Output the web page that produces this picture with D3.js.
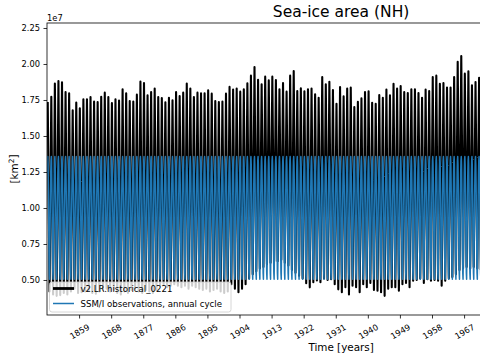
<!DOCTYPE html>
<html><head><meta charset="utf-8">
<script src="https://cdn.jsdelivr.net/npm/d3@7"></script>
<style>body{margin:0;background:#fff} svg{display:block;font-family:"DejaVu Sans",sans-serif}</style>
</head><body><svg id="c" width="480" height="360"></svg>
<script>
// ---- data (units of 1e7 km^2) ----
const firstYear = 1850;
const lastAxisYear = 2015;
// annual maximum (March) of model run, 1850..1971
const blackMax = [
 1.736,1.773,1.864,1.882,1.873,1.806,1.797,1.679,1.732,1.692,
 1.755,1.755,1.771,1.739,1.736,1.773,1.801,1.771,1.729,1.755,
 1.746,1.824,1.797,1.743,1.739,1.787,1.878,1.868,1.783,1.806,
 1.829,1.771,1.764,1.734,1.766,1.748,1.806,1.778,1.801,1.864,
 1.829,1.771,1.801,1.797,1.797,1.817,1.794,1.743,1.736,1.739,
 1.794,1.841,1.822,1.829,1.808,1.824,1.866,1.919,1.979,1.891,
 1.859,1.912,1.886,1.912,1.889,1.824,1.868,1.808,1.919,1.951,
 1.812,1.831,1.810,1.824,1.829,1.789,1.766,1.910,1.859,1.877,
 1.819,1.724,1.840,1.775,1.829,1.836,1.701,1.738,1.761,1.805,
 1.810,1.731,1.724,1.785,1.766,1.822,1.782,1.863,1.829,1.847,
 1.805,1.798,1.824,1.824,1.798,1.766,1.822,1.812,1.910,1.919,
 1.863,1.868,1.836,1.836,1.910,2.016,2.055,1.933,1.949,1.852,
 1.875,1.905
];
// annual minimum (September) of model run, 1850..1971
const blackMin = [
 0.420,0.400,0.390,0.395,0.410,0.400,0.420,0.440,0.410,0.415,
 0.420,0.430,0.410,0.405,0.420,0.430,0.440,0.420,0.430,0.410,
 0.400,0.420,0.410,0.430,0.440,0.420,0.410,0.430,0.420,0.410,
 0.430,0.460,0.470,0.450,0.460,0.470,0.460,0.450,0.460,0.440,
 0.460,0.450,0.440,0.430,0.440,0.420,0.430,0.440,0.420,0.410,
 0.420,0.470,0.440,0.415,0.440,0.470,0.510,0.540,0.560,0.580,
 0.590,0.610,0.620,0.630,0.630,0.640,0.620,0.600,0.570,0.550,
 0.530,0.510,0.477,0.449,0.484,0.496,0.484,0.510,0.500,0.505,
 0.470,0.435,0.415,0.450,0.400,0.460,0.450,0.415,0.470,0.450,
 0.480,0.430,0.425,0.415,0.390,0.440,0.450,0.450,0.425,0.470,
 0.480,0.450,0.495,0.500,0.510,0.480,0.505,0.495,0.500,0.495,
 0.460,0.495,0.510,0.520,0.540,0.570,0.580,0.590,0.580,0.590,
 0.580,0.570
];
// SSM/I observed annual cycle, Jan..Dec
const obsCycle = [1.240,1.330,1.358,1.300,1.160,0.960,0.710,0.550,0.505,0.670,0.900,1.090];
// tick years that fall inside the visible part of the axis
const xTickYears = [1859,1868,1877,1886,1895,1904,1913,1922,1931,1940,1949,1958,1967];
const yTickValues = [0.50,0.75,1.00,1.25,1.50,1.75,2.00,2.25];
const seriesNames = ["v2.LR.historical_0221","SSM/I observations, annual cycle"];
const seriesColors = ["#000000","#1f77b4"];

// ---- layout ----
const L = 47, T = 23, R = 635.2, B = 315;
const svg = d3.select("#c");
const x = d3.scaleLinear().domain([firstYear, lastAxisYear]).range([L, R]);
const y = d3.scaleLinear().domain([0.2569, 2.2847]).range([B, T]);

svg.append("defs").append("clipPath").attr("id","clip")
  .append("rect").attr("x",L).attr("y",T).attr("width",R-L).attr("height",B-T);

const blackPts = [];
blackMax.forEach((v,i)=>{
  blackPts.push({t:firstYear+i+2.5/12, v:v});
  blackPts.push({t:firstYear+i+8.5/12, v:blackMin[i]});
});
const bluePts = [];
for (let yr=firstYear; yr<lastAxisYear; yr++) {
  obsCycle.forEach((v,m)=>bluePts.push({t:yr+(m+0.5)/12, v:v}));
}
const line = d3.line().x(d=>x(d.t)).y(d=>y(d.v));
const plot = svg.append("g").attr("clip-path","url(#clip)");
plot.append("path").datum(blackPts).attr("d",line)
  .attr("fill","none").attr("stroke",seriesColors[0]).attr("stroke-width",2.1).attr("stroke-linejoin","round");
plot.append("path").datum(bluePts).attr("d",line)
  .attr("fill","none").attr("stroke",seriesColors[1]).attr("stroke-width",1.5).attr("stroke-linejoin","round");

// spines
svg.append("rect").attr("x",L).attr("y",T).attr("width",R-L).attr("height",B-T)
  .attr("fill","none").attr("stroke","#000").attr("stroke-width",0.8);

// y axis
const ya = svg.append("g").attr("transform",`translate(${L},0)`)
  .call(d3.axisLeft(y).tickValues(yTickValues).tickFormat(d3.format(".2f")).tickSize(3.5).tickPadding(3.5));
ya.select(".domain").remove();
ya.selectAll("line").attr("stroke","#000").attr("stroke-width",0.8);
ya.selectAll("text").attr("font-size","8.3px").attr("fill","#000").attr("font-family","DejaVu Sans");

// x axis
const xa = svg.append("g").attr("transform",`translate(0,${B})`)
  .call(d3.axisBottom(x).tickValues(xTickYears).tickFormat(d3.format("d")).tickSize(3.5));
xa.select(".domain").remove();
xa.selectAll("line").attr("stroke","#000").attr("stroke-width",0.8);
xa.selectAll("text").attr("font-size","8.3px").attr("fill","#000").attr("font-family","DejaVu Sans")
  .attr("y",null).attr("dy",null).attr("text-anchor","middle").attr("dominant-baseline","central")
  .attr("transform","translate(0,16.5) rotate(-30)");

// offset text, labels, title
svg.append("text").attr("x",L).attr("y",20.5).attr("font-size","8.3px").text("1e7");
svg.append("text").attr("x",(L+R)/2).attr("y",17).attr("text-anchor","middle").attr("font-size","15.5px").text("Sea-ice area (NH)");
svg.append("text").attr("x",(L+R)/2).attr("y",350.5).attr("text-anchor","middle").attr("font-size","10.4px").text("Time [years]");
const yl = svg.append("text").attr("transform",`translate(17.5,${(T+B)/2}) rotate(-90)`)
  .attr("text-anchor","middle").attr("font-size","10.4px");
yl.append("tspan").text("[km");
yl.append("tspan").attr("font-size","7.3px").attr("dy","-0.45em").text("2");
yl.append("tspan").attr("dy","0.3em").text("]");

// legend
const lg = svg.append("g").attr("transform","translate(49.5,282)");
lg.append("rect").attr("width",181.5).attr("height",30).attr("rx",2.5)
  .attr("fill","#fff").attr("fill-opacity",0.8).attr("stroke","#cccccc").attr("stroke-width",0.8);
seriesNames.forEach((n,i)=>{
  const yy = 6.5 + i*15;
  lg.append("line").attr("x1",3.5).attr("x2",24.5).attr("y1",yy).attr("y2",yy)
    .attr("stroke",seriesColors[i]).attr("stroke-width",i===0?2.8:1.5);
  lg.append("text").attr("x",31).attr("y",yy+3).attr("font-size","8.6px").text(n);
});
</script></body></html>
